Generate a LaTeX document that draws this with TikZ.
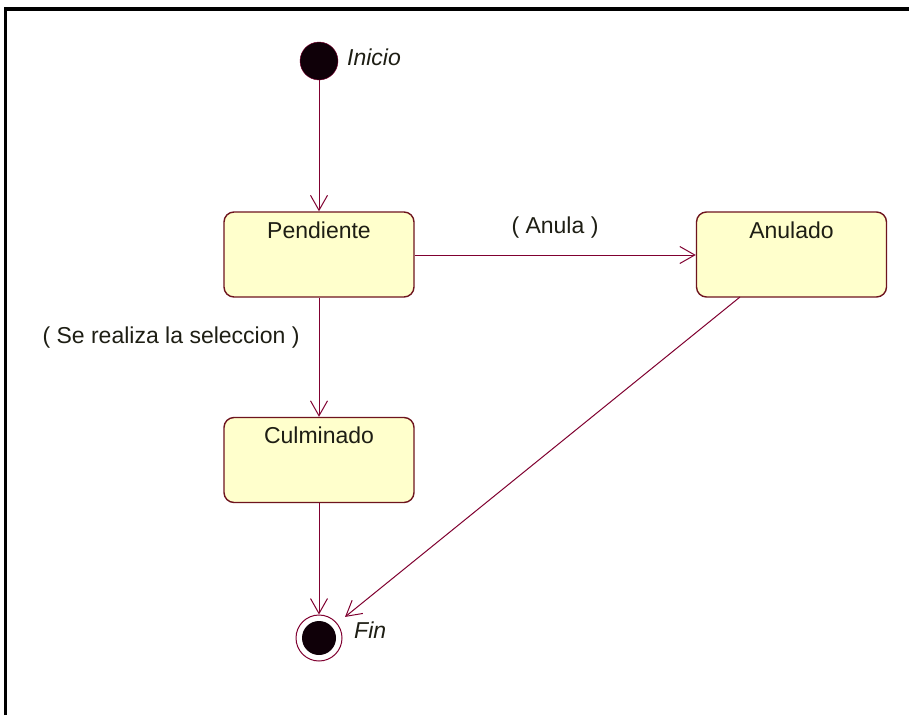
\documentclass[tikz,border=0pt]{standalone}
\usepackage{fontspec}
\setmainfont{Liberation Sans}
\usetikzlibrary{arrows.meta}
\definecolor{lc}{RGB}{128,0,48}
\definecolor{bc}{RGB}{110,20,30}
\definecolor{fc}{RGB}{255,255,204}
\definecolor{tc}{RGB}{30,30,20}
\definecolor{ic}{RGB}{15,0,8}
\tikzset{
  statebox/.style={draw=bc, fill=fc, rounded corners=10pt, minimum width=190pt, minimum height=85pt, line width=1.4pt, inner sep=0pt},
  stxt/.style={anchor=north, inner sep=0pt, text=tc, font=\fontsize{23}{27}\selectfont},
  lbl/.style={inner sep=0pt, text=tc, font=\fontsize{23}{27}\selectfont},
  ilbl/.style={inner sep=0pt, text=tc, font=\fontsize{23}{27}\selectfont\itshape},
  trans/.style={draw=lc, line width=1pt, -{Straight Barb[length=15pt,width=17pt,line width=1pt]}}
}
\begin{document}
\begin{tikzpicture}[x=1pt,y=-1pt]
\useasboundingbox (0,0) rectangle (909,715);
\fill[white] (0,0) rectangle (909,715);
% frame
\draw[line width=3.5pt, black] (5.5,715) -- (5.5,9) -- (909,9);

% initial
\node[circle, fill=ic, draw=lc, minimum size=38pt, inner sep=0pt] (init) at (319,61) {};
\node[ilbl, anchor=west] (initl) at (347,57) {Inicio};

% states
\node[statebox] (pend) at (319,254.5) {};
\node[stxt] (pendt) at ([yshift=-10pt]pend.north) {Pendiente};
\node[statebox] (anul) at (791.5,254.5) {};
\node[stxt] (anult) at ([yshift=-10pt]anul.north) {Anulado};
\node[statebox] (culm) at (319,460) {};
\node[stxt] (culmt) at ([yshift=-10pt]culm.north) {Culminado};

% final
\node[circle, draw=lc, fill=white, line width=1pt, minimum size=46pt, inner sep=0pt] (fin) at (319,638) {};
\fill[ic] (fin.center) circle (17pt);
\node[ilbl, anchor=west] (finl) at (354,630) {Fin};

% transitions
\draw[trans] (init) -- (pend);
\draw[trans] (pend.east |- 0,255) coordinate (pe) -- (anul.west |- pe);
\node[lbl] (anulbl) at (555,228) {( Anula )};
\draw[trans] (pend) -- (culm);
\node[lbl] (sellbl) at (171,338) {( Se realiza la seleccion )};
\draw[trans] (culm) -- (fin);
\coordinate (anb) at (740,297);
\draw[trans, shorten >=10pt] (anb) -- (fin);
\end{tikzpicture}
\end{document}
